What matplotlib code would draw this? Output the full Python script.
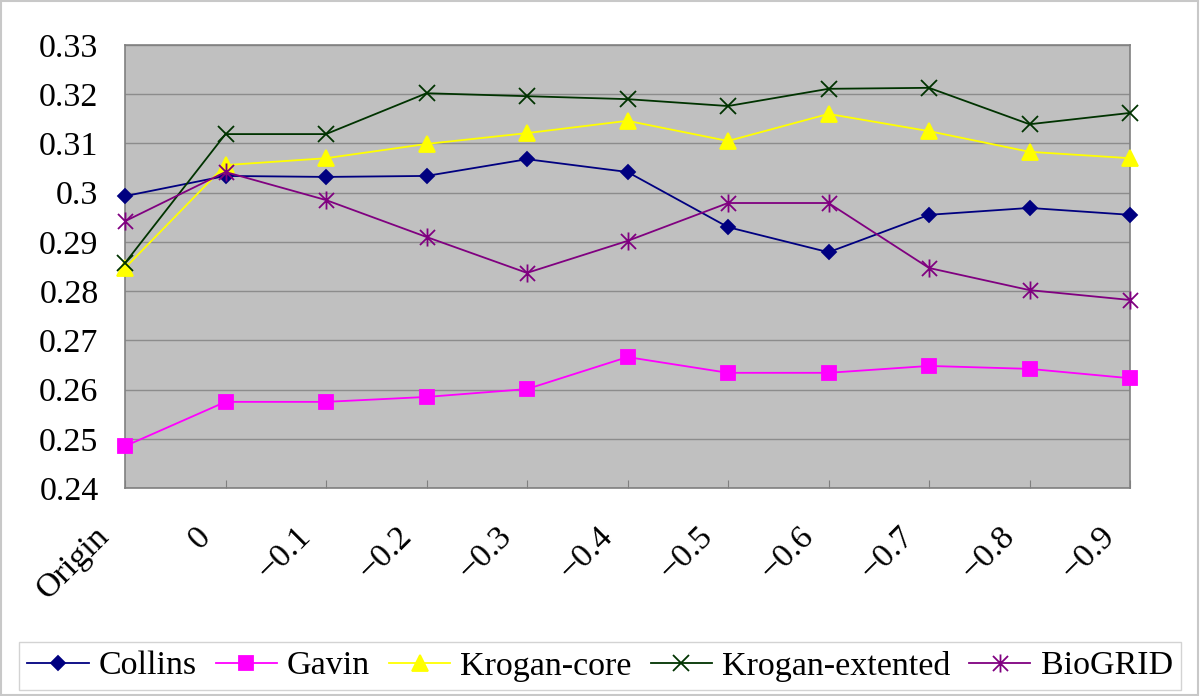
import matplotlib
matplotlib.use('Agg')
import matplotlib.pyplot as plt
import matplotlib.transforms as mtransforms
from matplotlib.path import Path
from matplotlib.patches import Rectangle

categories = ['Origin', '0', '-0.1', '-0.2', '-0.3', '-0.4',
              '-0.5', '-0.6', '-0.7', '-0.8', '-0.9']

collins = [0.2993, 0.3034, 0.3032, 0.3034, 0.3068, 0.3042,
           0.2930, 0.2879, 0.2955, 0.2969, 0.2955]
gavin = [0.2485, 0.2575, 0.2575, 0.2585, 0.2601, 0.2666,
         0.2634, 0.2634, 0.2648, 0.2642, 0.2623]
krogan_core = [0.2847, 0.3056, 0.3070, 0.3099, 0.3121, 0.3146,
               0.3105, 0.3160, 0.3125, 0.3083, 0.3070]
krogan_ext = [0.2857, 0.3119, 0.3119, 0.3202, 0.3196, 0.3190,
              0.3176, 0.3211, 0.3213, 0.3139, 0.3162]
biogrid = [0.2942, 0.3042, 0.2985, 0.2910, 0.2837, 0.2902,
           0.2979, 0.2979, 0.2847, 0.2802, 0.2782]

y_ticks = [0.24, 0.25, 0.26, 0.27, 0.28, 0.29, 0.30, 0.31, 0.32, 0.33]
y_tick_labels = ['0.24', '0.25', '0.26', '0.27', '0.28', '0.29',
                 '0.3', '0.31', '0.32', '0.33']

FONT = 'Liberation Serif'


def star_marker():
    # excel style star: an X with a vertical bar through it
    verts = [(-0.5, -0.5), (0.5, 0.5), (-0.5, 0.5), (0.5, -0.5),
             (0, -0.6), (0, 0.6)]
    codes = [Path.MOVETO, Path.LINETO] * 3
    return Path(verts, codes)


def main():
    plt.rcParams['font.family'] = [FONT, 'DejaVu Serif']
    fig = plt.figure(figsize=(12, 6.96), dpi=100)
    ax = fig.add_axes([125 / 1200, 1 - 488 / 696, 1005 / 1200, 443 / 696])
    ax.set_facecolor('#c0c0c0')

    x = list(range(len(categories)))
    series = [
        (collins, 'Collins', '#000080', 'D', 7.5),
        (gavin, 'Gavin', '#ff00ff', 's', 10),
        (krogan_core, 'Krogan-core', '#ffff00', '^', 11.5),
        (krogan_ext, 'Krogan-extented', '#003300', 'x', 12),
        (biogrid, 'BioGRID', '#800080', star_marker(), 13),
    ]
    for vals, name, col, mk, ms in series:
        ax.plot(x, vals, color=col, lw=1.3, marker=mk, markersize=ms,
                markeredgecolor=col, markerfacecolor=col,
                markeredgewidth=1.3, label=name, clip_on=False, zorder=3)

    ax.set_xlim(0, 10)
    ax.set_ylim(0.24, 0.33)
    ax.set_yticks(y_ticks)
    ax.set_yticklabels(y_tick_labels)
    ax.yaxis.grid(True, color='#8c8c8c', lw=1)
    ax.set_axisbelow(True)
    for s in ax.spines.values():
        s.set_color('#808080')
        s.set_linewidth(1.2)

    ax.set_xticks(x)
    ax.set_xticklabels([c.replace('-', '\u2212') for c in categories])
    ax.tick_params(axis='y', length=0, pad=19, labelsize=24.5)
    ax.tick_params(axis='x', direction='in', length=6, color='#808080',
                   pad=5, labelsize=24.5)
    offset = mtransforms.ScaledTranslation(-0.20, -0.37, fig.dpi_scale_trans)
    for lab in ax.get_xticklabels():
        lab.set_rotation(45)
        lab.set_rotation_mode('anchor')
        lab.set_ha('right')
        lab.set_va('center')
        lab.set_transform(lab.get_transform() + offset)

    leg = fig.legend(loc='center', bbox_to_anchor=(600 / 1200, 1 - 666 / 696),
                     ncol=5, fontsize=24.5, frameon=True, fancybox=False,
                     handlelength=1.8, handletextpad=0.3, columnspacing=0.55,
                     borderpad=0.25, borderaxespad=0)
    leg.get_frame().set_edgecolor('#c8c8c8')
    leg.get_frame().set_linewidth(1)

    fig.patches.append(Rectangle((0.001, 0.001), 0.997, 0.997,
                                 transform=fig.transFigure, fill=False,
                                 edgecolor='#c8c8c8', lw=1.5))

    fig.savefig('out.png', dpi=100)


if __name__ == '__main__':
    main()
